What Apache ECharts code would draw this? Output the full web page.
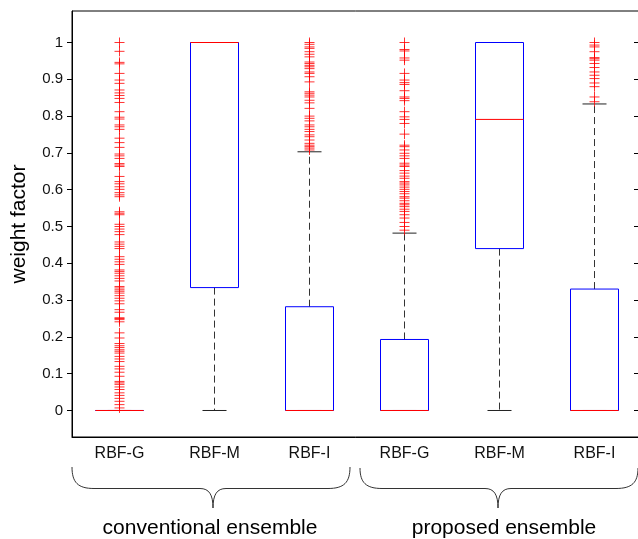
<!DOCTYPE html>
<html lang="en">
<head>
    <meta charset="UTF-8">
    <title>weight factor boxplot</title>
    <script src="https://cdn.jsdelivr.net/npm/echarts@6/dist/echarts.min.js"></script>
    <style>
        html, body {margin: 0; padding: 0; background: #fff;}
    </style>
</head>
<body>
<div id="main" style="width: 638px;height:539px;"></div>
<script type="text/javascript">
    // box statistics, one entry per box (left to right)
    var categories = ['RBF-G', 'RBF-M', 'RBF-I', 'RBF-G', 'RBF-M', 'RBF-I'];
    var whiskerLow = [0, 0, 0, 0, 0, 0];
    var q1 = [0, 0.334, 0, 0, 0.44, 0];
    var median = [0, 1, 0, 0, 0.791, 0];
    var q3 = [0, 1, 0.282, 0.193, 1, 0.33];
    var whiskerHigh = [0, 1, 0.703, 0.482, 1, 0.833];

    // outliers ('+' marks)
    var outConvG = [1.0, 0.976, 0.946, 0.942, 0.916, 0.898, 0.889, 0.871, 0.863, 0.856, 0.848, 0.837,
        0.812, 0.797, 0.792, 0.776, 0.771, 0.764, 0.740, 0.728, 0.715, 0.697, 0.692, 0.685, 0.671,
        0.667, 0.663, 0.636, 0.622, 0.616, 0.608, 0.601, 0.592, 0.586, 0.581, 0.540, 0.536, 0.532,
        0.506, 0.500, 0.493, 0.486, 0.478, 0.458, 0.452, 0.446, 0.440, 0.418, 0.411, 0.404, 0.397,
        0.382, 0.378, 0.373, 0.366, 0.359, 0.352, 0.337, 0.333, 0.328, 0.324, 0.319, 0.312, 0.305,
        0.298, 0.290, 0.274, 0.267, 0.252, 0.250, 0.247, 0.241, 0.211, 0.197, 0.182, 0.176, 0.171,
        0.165, 0.161, 0.156, 0.147, 0.140, 0.133, 0.120, 0.113, 0.104, 0.093, 0.079, 0.075, 0.071,
        0.064, 0.057, 0.048, 0.041, 0.033, 0.025, 0.016, 0.007];
    var outConvM = [];
    var outConvI = [1.0, 0.995, 0.988, 0.984, 0.975, 0.968, 0.961, 0.947, 0.943, 0.938, 0.934, 0.929,
        0.920, 0.916, 0.907, 0.893, 0.866, 0.862, 0.857, 0.852, 0.843, 0.836, 0.821, 0.800, 0.794,
        0.787, 0.776, 0.771, 0.764, 0.758, 0.749, 0.744, 0.735, 0.726, 0.721, 0.717, 0.713, 0.708];
    var outPropG = [1.0, 0.981, 0.977, 0.958, 0.952, 0.916, 0.898, 0.891, 0.886, 0.869, 0.852, 0.848,
        0.842, 0.812, 0.798, 0.791, 0.780, 0.751, 0.721, 0.717, 0.708, 0.699, 0.692, 0.685, 0.672,
        0.667, 0.663, 0.652, 0.645, 0.637, 0.631, 0.622, 0.618, 0.613, 0.607, 0.601, 0.595, 0.589,
        0.581, 0.577, 0.570, 0.563, 0.559, 0.554, 0.547, 0.541, 0.532, 0.523, 0.511, 0.500, 0.490];
    var outPropM = [];
    var outPropI = [1.0, 0.993, 0.988, 0.975, 0.959, 0.956, 0.952, 0.943, 0.932, 0.920, 0.911, 0.902,
        0.890, 0.880, 0.852, 0.839];

    var yTicks = [0, 0.1, 0.2, 0.3, 0.4, 0.5, 0.6, 0.7, 0.8, 0.9, 1];
    var xTicks = [1, 2, 3, 4, 5, 6];
    var groupNames = ['conventional ensemble', 'proposed ensemble'];

    // y range chosen so 0 and 1 fall on pixel centres (368 px per unit)
    var yMin = -0.072011, yMax = 1.085598;
    // box half width / whisker cap half width, in x units (95 px per unit)
    var boxHalf = 24 / 95, capHalf = 12 / 95;

    // build line segments from the stats (positions on the x axis are 1..6)
    var whiskerLines = [], capLines = [], boxLines = [], medianLines = [];
    for (var i = 0; i < categories.length; i++) {
        var x = i + 1;
        if (whiskerLow[i] < q1[i]) whiskerLines.push({coords: [[x, q1[i]], [x, whiskerLow[i]]]});
        if (whiskerHigh[i] > q3[i]) whiskerLines.push({coords: [[x, q3[i]], [x, whiskerHigh[i]]]});
        capLines.push({coords: [[x - capHalf, whiskerLow[i]], [x + capHalf, whiskerLow[i]]]});
        capLines.push({coords: [[x - capHalf, whiskerHigh[i]], [x + capHalf, whiskerHigh[i]]]});
        boxLines.push({coords: [[x - boxHalf, q1[i]], [x - boxHalf, q3[i]], [x + boxHalf, q3[i]],
            [x + boxHalf, q1[i]], [x - boxHalf, q1[i]]]});
        medianLines.push({coords: [[x - boxHalf, median[i]], [x + boxHalf, median[i]]]});
    }

    var outlierSets = [outConvG, outConvM, outConvI, outPropG, outPropM, outPropI];
    var outlierData = [];
    for (var k = 0; k < outlierSets.length; k++) {
        for (var j = 0; j < outlierSets[k].length; j++) {
            outlierData.push([k + 1, outlierSets[k][j]]);
        }
    }

    function segSeries(name, data, color, type, z) {
        return {
            type: 'lines',
            name: name,
            coordinateSystem: 'cartesian2d',
            polyline: true,
            silent: true,
            symbol: 'none',
            lineStyle: {color: color, width: 1, type: type, opacity: 1},
            data: data,
            z: z
        };
    }

    // curly brace under a group of boxes: ends at x0/x1, tip at tx
    function brace(x0, x1, tx, yTop, yMid, yTip) {
        var r = 22, t = 13;
        var st = function () { return {stroke: '#333', lineWidth: 1, fill: 'none'}; };
        return [
            {type: 'bezierCurve', shape: {x1: x0, y1: yTop, cpx1: x0, cpy1: yMid - 6, cpx2: x0 + 6, cpy2: yMid, x2: x0 + r, y2: yMid}, style: st()},
            {type: 'line', shape: {x1: x0 + r, y1: yMid, x2: tx - t, y2: yMid}, style: st()},
            {type: 'bezierCurve', shape: {x1: tx - t, y1: yMid, cpx1: tx - 4, cpy1: yMid, cpx2: tx, cpy2: yMid + 6, x2: tx, y2: yTip}, style: st()},
            {type: 'bezierCurve', shape: {x1: tx, y1: yTip, cpx1: tx, cpy1: yMid + 6, cpx2: tx + 4, cpy2: yMid, x2: tx + t, y2: yMid}, style: st()},
            {type: 'line', shape: {x1: tx + t, y1: yMid, x2: x1 - r, y2: yMid}, style: st()},
            {type: 'bezierCurve', shape: {x1: x1 - r, y1: yMid, cpx1: x1 - 6, cpy1: yMid, cpx2: x1, cpy2: yMid - 6, x2: x1, y2: yTop}, style: st()}
        ];
    }

    var textFont = 'Liberation Sans, Arial, sans-serif';
    var graphics = brace(72, 350, 213, 467, 488.5, 508).concat(brace(360, 638, 498, 468, 488.5, 508));
    graphics.push({
        type: 'text', x: 210, y: 528,
        style: {text: groupNames[0], fontSize: 21, fontFamily: textFont, fill: '#000', align: 'center', verticalAlign: 'middle'}
    });
    graphics.push({
        type: 'text', x: 504, y: 528,
        style: {text: groupNames[1], fontSize: 21, fontFamily: textFont, fill: '#000', align: 'center', verticalAlign: 'middle'}
    });

    var myChart = echarts.init(document.getElementById('main'));
    var option = {
        backgroundColor: '#fff',
        animation: false,
        grid: {
            left: 72,
            top: 11,
            width: 570,
            bottom: 102,
            containLabel: false,
            outerBoundsMode: 'none',
            show: true,
            borderColor: '#000',
            borderWidth: 1
        },
        xAxis: {
            type: 'value',
            min: 0.5,
            max: 6.5,
            axisLine: {show: true, onZero: false, lineStyle: {color: '#000'}},
            axisTick: {show: false},
            splitLine: {show: false},
            axisLabel: {
                customValues: xTicks,
                margin: 9,
                fontSize: 16,
                fontFamily: textFont,
                color: '#111',
                formatter: function (v) {
                    return categories[Math.round(v) - 1];
                }
            }
        },
        yAxis: [{
            type: 'value',
            min: yMin,
            max: yMax,
            name: 'weight factor',
            nameLocation: 'middle',
            nameGap: 42,
            nameTextStyle: {fontSize: 21, color: '#000', fontFamily: textFont},
            axisLine: {show: true, onZero: false, lineStyle: {color: '#000'}},
            axisTick: {show: true, length: 5, customValues: yTicks, lineStyle: {color: '#000'}},
            splitLine: {show: false},
            axisLabel: {
                customValues: yTicks,
                margin: 9,
                fontSize: 15,
                fontFamily: textFont,
                color: '#111',
                formatter: function (v) {
                    return String(v);
                }
            }
        }, {
            type: 'value',
            position: 'right',
            min: yMin,
            max: yMax,
            axisLine: {show: false, onZero: false},
            axisTick: {show: true, inside: true, length: 8, customValues: yTicks, lineStyle: {color: '#000'}},
            axisLabel: {show: false},
            splitLine: {show: false}
        }],
        series: [
            segSeries('whiskers', whiskerLines, '#333', [7, 4], 2),
            segSeries('caps', capLines, '#222', 'solid', 3),
            segSeries('boxes', boxLines, '#0000ff', 'solid', 4),
            segSeries('medians', medianLines, '#ff0000', 'solid', 5),
            {
                type: 'scatter',
                name: 'outliers',
                symbol: 'path://M0,5L10,5M5,0L5,10',
                symbolSize: 10,
                itemStyle: {color: 'none', borderColor: '#ff0000', borderWidth: 1},
                data: outlierData,
                z: 6
            }
        ],
        graphic: graphics
    };
    myChart.setOption(option);
</script>
</body>
</html>
